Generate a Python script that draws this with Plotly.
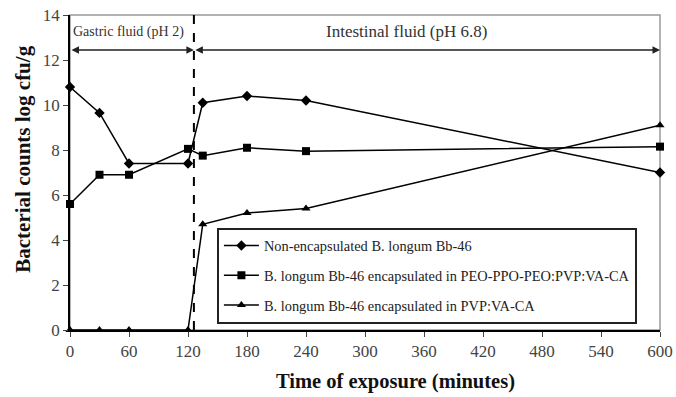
import plotly.graph_objects as go

time = [0, 30, 60, 120, 135, 180, 240, 600]
non_encap = [10.8, 9.65, 7.4, 7.4, 10.1, 10.4, 10.2, 7.0]
peo_ppo = [5.6, 6.9, 6.9, 8.05, 7.75, 8.1, 7.95, 8.15]
pvp = [0, 0, 0, 0, 4.7, 5.2, 5.4, 9.1]

names = ["Non-encapsulated B. longum Bb-46",
         "B. longum Bb-46 encapsulated in PEO-PPO-PEO:PVP:VA-CA",
         "B. longum Bb-46 encapsulated in PVP:VA-CA"]
symbols = ["diamond", "square", "triangle-up"]
series = [non_encap, peo_ppo, pvp]

xticks = [0, 60, 120, 180, 240, 300, 360, 420, 480, 540, 600]
yticks = [0, 2, 4, 6, 8, 10, 12, 14]

font = "Liberation Serif"
fig = go.Figure()
for i, (nm, sym, ys) in enumerate(zip(names, symbols, series)):
    fig.add_trace(go.Scatter(
        x=time, y=ys, name=nm, mode="lines+markers", legendgroup=str(i),
        line=dict(color="black", width=1.5),
        marker=dict(symbol=sym, size=8, color="black"),
        cliponaxis=False))

fig.add_shape(type="line", x0=126, x1=126, y0=0, y1=14, xref="x", yref="y",
              line=dict(color="black", width=2, dash="dash"))

for x0, x1 in [(0, 126), (126, 600)]:
    fig.add_annotation(x=x1, y=12.44, ax=x0, ay=12.44, xref="x", yref="y",
                       axref="x", ayref="y", text="", showarrow=True,
                       arrowhead=2, arrowside="end+start", arrowsize=1,
                       arrowwidth=1.5, arrowcolor="#222")

fig.add_annotation(x=1, y=13.25, xref="x", yref="y", text="Gastric fluid (pH 2)",
                   showarrow=False, xanchor="left",
                   font=dict(family=font, size=14, color="#333"))
fig.add_annotation(x=342, y=13.25, xref="x", yref="y", text="Intestinal fluid (pH 6.8)",
                   showarrow=False, xanchor="center",
                   font=dict(family=font, size=17, color="#333"))

# axis titles as annotations for exact placement
fig.add_annotation(x=0.551, y=-0.165, xref="paper", yref="paper",
                   text="<b>Time of exposure (minutes)</b>",
                   showarrow=False, xanchor="center", yanchor="middle",
                   font=dict(family=font, size=20.5, color="#111"))
fig.add_annotation(x=-0.08, y=0.543, xref="paper", yref="paper",
                   text="<b>Bacterial counts log cfu/g</b>",
                   showarrow=False, xanchor="center", yanchor="middle", textangle=-90,
                   font=dict(family=font, size=21, color="#111"))

fig.update_layout(
    width=676, height=397,
    margin=dict(l=70, r=16, t=15, b=67),
    paper_bgcolor="white", plot_bgcolor="white",
    font=dict(family=font, color="#222"),
    showlegend=True,
    legend=dict(x=0.249, y=0.325, xanchor="left", yanchor="top",
                bordercolor="#222", borderwidth=2, bgcolor="white",
                font=dict(family=font, size=14.4, color="#222"),
                tracegroupgap=8, itemwidth=35),
    xaxis=dict(range=[0, 600], tickvals=xticks, ticks="outside", ticklen=5,
               showline=True, linecolor="black", linewidth=1.5, mirror=False,
               showgrid=False, zeroline=False, automargin=False,
               tickfont=dict(family=font, size=17, color="#444")),
    yaxis=dict(range=[0, 14], tickvals=yticks, ticks="outside", ticklen=5,
               showline=True, linecolor="black", linewidth=1.5,
               showgrid=False, zeroline=False, automargin=False,
               tickfont=dict(family=font, size=17, color="#444")),
)
fig.add_shape(type="rect", x0=0, x1=1, y0=0, y1=1, xref="paper", yref="paper",
              line=dict(color="#999", width=1.5), layer="below")

fig.write_html("out.html")
